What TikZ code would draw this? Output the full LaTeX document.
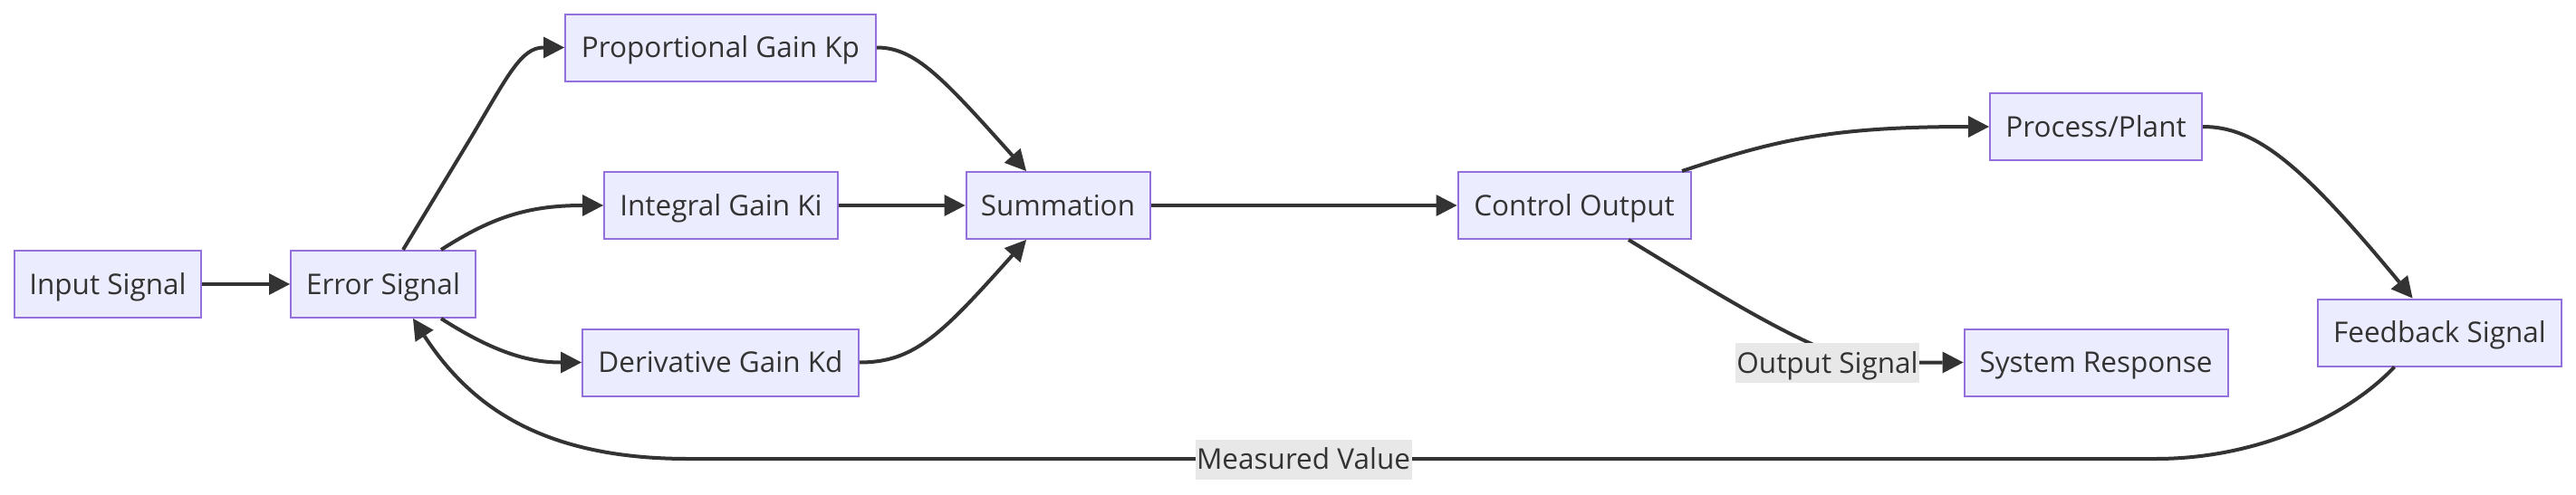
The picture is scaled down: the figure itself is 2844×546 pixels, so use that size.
\documentclass[tikz,border=0pt]{standalone}
\usepackage{fontspec}
\setmainfont{Open Sans}
\usetikzlibrary{arrows.meta,calc}
\definecolor{nodefill}{HTML}{ECECFF}
\definecolor{nodeborder}{HTML}{9370DB}
\definecolor{edgecol}{HTML}{333333}
\definecolor{labelbg}{HTML}{E8E8E8}
\tikzset{
  box/.style={draw=nodeborder, fill=nodefill, line width=2pt, minimum height=74pt,
    inner sep=0pt, text=edgecol, font=\fontsize{31.5}{38}\selectfont,
    text height=22.5pt, text depth=0pt},
  edge/.style={draw=edgecol, line width=4pt,
    -{Triangle[length=23pt,width=24pt,line width=0pt]}},
  elabel/.style={fill=labelbg, inner sep=0pt, minimum height=44pt,
    text=edgecol, font=\fontsize{31.5}{38}\selectfont,
    text height=22.5pt, text depth=0pt}
}
\begin{document}
\begin{tikzpicture}[x=1pt,y=-1pt]
\useasboundingbox (0,0) rectangle (2844,546);
\fill[white] (0,0) rectangle (2844,546);

% nodes
\node[box, minimum width=206pt] (in)  at (119,314)    {Input Signal};
\node[box, minimum width=204pt] (err) at (423,314)    {Error Signal};
\node[box, minimum width=343pt] (kp)  at (795.5,52.5) {Proportional Gain Kp};
\node[box, minimum width=258pt] (ki)  at (796,227)    {Integral Gain Ki};
\node[box, minimum width=305pt] (kd)  at (795.5,400.5){Derivative Gain Kd};
\node[box, minimum width=203pt] (sum) at (1168,227)   {Summation};
\node[box, minimum width=257pt] (co)  at (1738,227)   {Control Output};
\node[box, minimum width=234pt] (pp)  at (2314,140)   {Process/Plant};
\node[box, minimum width=291pt] (sr)  at (2314,400.5) {System Response};
\node[box, minimum width=269pt] (fb)  at (2693.5,367.5){Feedback Signal};

% edges
\draw[edge] (in.east) -- (err.west);
\draw[edge] ($(err.north)+(22,0)$) -- (520,152) .. controls (560,85) and (575,52.5) .. (kp.west);
\draw[edge] ($(err.north)+(64,0)$) .. controls (540,242) and (580,227) .. (ki.west);
\draw[edge] ($(err.south)+(64,0)$) .. controls (540,386) and (580,400.5) .. (kd.west);
\draw[edge] (kp.east) .. controls (1010,52.5) and (1040,85) .. ($(sum.north)+(-35,0)$);
\draw[edge] (ki.east) -- (sum.west);
\draw[edge] (kd.east) .. controls (1010,400.5) and (1040,369) .. ($(sum.south)+(-35,0)$);
\draw[edge] (sum.east) -- (co.west);
\draw[edge] ($(co.north)+(119,0)$) .. controls (1960,155) and (2020,140) .. (pp.west);
\draw[edge] ($(co.south)+(60,0)$) .. controls (1900,327) and (2000,390) .. (2060,400.5) -- (sr.west);
\draw[edge] (pp.east) .. controls (2490,140) and (2540,180) .. ($(fb.north)+(-30,0)$);
\draw[edge] ($(fb.south)+(-50,0)$) .. controls (2590,462) and (2490,507) .. (2380,507)
  -- (760,507) .. controls (600,507) and (520,450) .. ($(err.south)+(33,0)$);

% edge labels
\node[elabel, minimum width=203pt] (lout) at (2017.5,401) {Output Signal};
\node[elabel, minimum width=239pt] (lmeas) at (1439,507.5) {Measured Value};
\end{tikzpicture}
\end{document}
